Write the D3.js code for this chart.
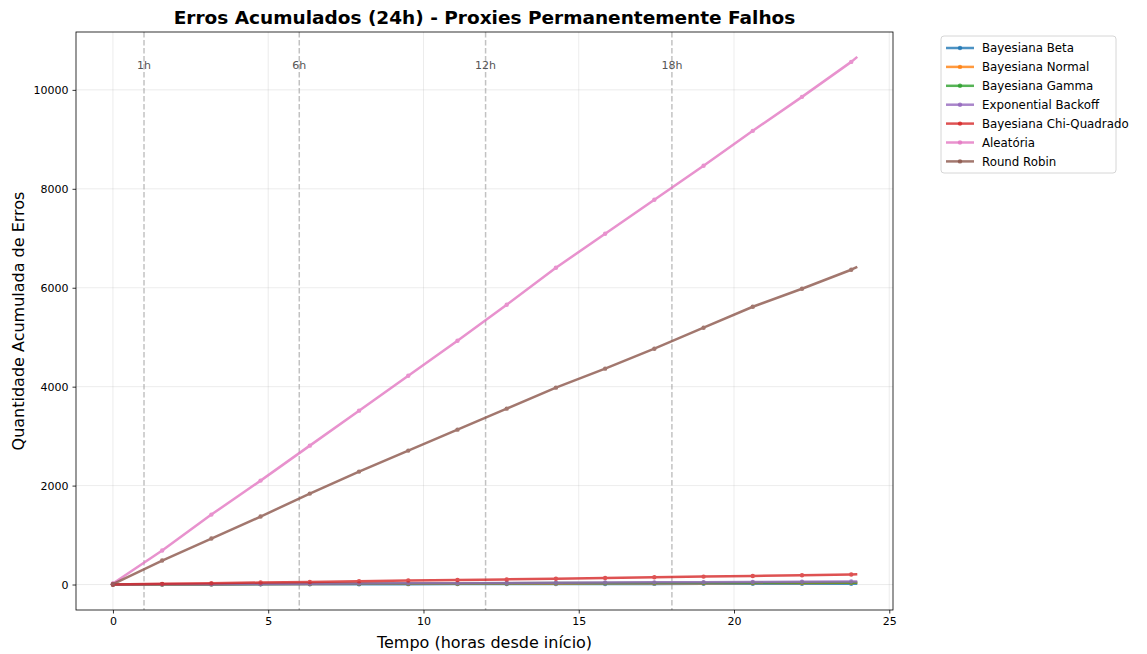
<!DOCTYPE html>
<html>
<head>
<meta charset="utf-8">
<script src="https://cdn.jsdelivr.net/npm/d3@7"></script>
<style>
  body { margin: 0; background: #fff; }
  svg { font-family: "DejaVu Sans", sans-serif; }
</style>
</head>
<body>
<div id="chart"></div>
<script>
// === data ===
const hours = [0, 1.585, 3.17, 4.755, 6.34, 7.925, 9.51, 11.095, 12.68, 14.265, 15.85, 17.435, 19.02, 20.605, 22.19, 23.775, 23.97];

const betaErrors   = [0, 2, 3, 5, 6, 7, 8, 9, 10, 11, 12, 13, 14, 15, 16, 17, 17];
const normalErrors = [0, 3, 6, 9, 12, 14, 16, 18, 20, 22, 24, 26, 28, 30, 32, 34, 34];
const gammaErrors  = [0, 4, 8, 11, 14, 17, 20, 23, 26, 29, 31, 34, 36, 38, 40, 42, 42];
const expoErrors   = [0, 4, 8, 12, 16, 20, 24, 28, 32, 36, 40, 44, 48, 52, 56, 60, 61];
const chiErrors    = [0, 14, 26, 40, 52, 66, 80, 92, 104, 118, 132, 146, 160, 172, 188, 202, 206];
const randomErrors = [20, 687, 1414, 2101, 2808, 3515, 4222, 4929, 5657, 6404, 7091, 7778, 8465, 9172, 9859, 10566, 10667];
const rrErrors     = [10, 485, 929, 1374, 1838, 2283, 2707, 3131, 3556, 3980, 4364, 4768, 5192, 5616, 5980, 6364, 6424];

const seriesNames = ["Bayesiana Beta", "Bayesiana Normal", "Bayesiana Gamma", "Exponential Backoff", "Bayesiana Chi-Quadrado", "Aleatória", "Round Robin"];
const seriesValues = [betaErrors, normalErrors, gammaErrors, expoErrors, chiErrors, randomErrors, rrErrors];
const seriesColors = ["#1f77b4", "#ff7f0e", "#2ca02c", "#9467bd", "#d62728", "#e377c2", "#8c564b"];

const markerHours = [1, 6, 12, 18];
const markerLabels = ["1h", "6h", "12h", "18h"];
const xTicks = [0, 5, 10, 15, 20, 25];
const yTicks = [0, 2000, 4000, 6000, 8000, 10000];

// === layout ===
const W = 1147, H = 654;
const m = { left: 76, right: 254, top: 32, bottom: 44 };

const svg = d3.select("#chart").append("svg")
  .attr("width", W).attr("height", H);

const x = d3.scaleLinear().domain([-1.19, 25.12]).range([m.left, W - m.right]);
const y = d3.scaleLinear().domain([-515, 11170]).range([H - m.bottom, m.top]);

const g = svg.append("g");

// grid
g.append("g").selectAll("line").data(xTicks).join("line")
  .attr("x1", d => x(d)).attr("x2", d => x(d))
  .attr("y1", m.top).attr("y2", H - m.bottom)
  .attr("stroke", "#b0b0b0").attr("stroke-opacity", 0.3).attr("stroke-width", 0.8);
g.append("g").selectAll("line").data(yTicks).join("line")
  .attr("x1", m.left).attr("x2", W - m.right)
  .attr("y1", d => y(d)).attr("y2", d => y(d))
  .attr("stroke", "#b0b0b0").attr("stroke-opacity", 0.3).attr("stroke-width", 0.8);

// vertical reference lines
g.append("g").selectAll("line").data(markerHours).join("line")
  .attr("x1", d => x(d)).attr("x2", d => x(d))
  .attr("y1", m.top).attr("y2", H - m.bottom)
  .attr("stroke", "#999").attr("stroke-opacity", 0.6)
  .attr("stroke-width", 1.5).attr("stroke-dasharray", "5.5,2.5");
g.append("g").selectAll("text").data(markerHours).join("text")
  .attr("x", d => x(d)).attr("y", 69)
  .attr("text-anchor", "middle")
  .attr("fill", "#555").style("font-size", "11px")
  .text((d, i) => markerLabels[i]);

// series
const line = d3.line().x(d => x(d[0])).y(d => y(d[1]));
seriesValues.forEach((vals, k) => {
  const pts = hours.map((h, i) => [h, vals[i]]);
  const sg = g.append("g").attr("opacity", 0.8);
  sg.append("path").datum(pts)
    .attr("fill", "none").attr("stroke", seriesColors[k])
    .attr("stroke-width", 2.5).attr("stroke-linejoin", "round")
    .attr("d", line);
  sg.selectAll("circle").data(pts.slice(0, -1)).join("circle")
    .attr("cx", d => x(d[0])).attr("cy", d => y(d[1]))
    .attr("r", 2.2).attr("fill", seriesColors[k]);
});

// axes
const xAxis = svg.append("g").attr("transform", `translate(0,${H - m.bottom})`)
  .call(d3.axisBottom(x).tickValues(xTicks).tickSize(3.5).tickPadding(4).tickFormat(d3.format("d")));
const yAxis = svg.append("g").attr("transform", `translate(${m.left},0)`)
  .call(d3.axisLeft(y).tickValues(yTicks).tickSize(3.5).tickPadding(4).tickFormat(d3.format("d")));
[xAxis, yAxis].forEach(a => {
  a.select(".domain").remove();
  a.selectAll("text").style("font-size", "11px").style("font-family", "DejaVu Sans").attr("fill", "#000");
  a.selectAll("line").attr("stroke", "#000").attr("stroke-width", 0.8);
});

// frame
svg.append("rect")
  .attr("x", m.left).attr("y", m.top)
  .attr("width", W - m.right - m.left).attr("height", H - m.bottom - m.top)
  .attr("fill", "none").attr("stroke", "#000").attr("stroke-width", 0.8);

// title and labels
svg.append("text").attr("x", (m.left + W - m.right) / 2).attr("y", 24)
  .attr("text-anchor", "middle").style("font-size", "18.5px").style("font-weight", "bold")
  .text("Erros Acumulados (24h) - Proxies Permanentemente Falhos");
svg.append("text").attr("x", (m.left + W - m.right) / 2).attr("y", 648)
  .attr("text-anchor", "middle").style("font-size", "16px")
  .text("Tempo (horas desde início)");
svg.append("text")
  .attr("transform", `translate(24,${(m.top + H - m.bottom) / 2}) rotate(-90)`)
  .attr("text-anchor", "middle").style("font-size", "16px")
  .text("Quantidade Acumulada de Erros");

// legend
const lg = svg.append("g").attr("transform", "translate(941,36)");
lg.append("rect").attr("width", 175).attr("height", 137).attr("rx", 3)
  .attr("fill", "#fff").attr("stroke", "#ccc").attr("stroke-width", 0.8);
seriesNames.forEach((name, k) => {
  const yy = 12 + k * 18.9;
  lg.append("line").attr("x1", 5).attr("x2", 33).attr("y1", yy).attr("y2", yy)
    .attr("stroke", seriesColors[k]).attr("stroke-width", 2.5).attr("stroke-opacity", 0.8);
  lg.append("circle").attr("cx", 19).attr("cy", yy).attr("r", 2.2)
    .attr("fill", seriesColors[k]).attr("opacity", 0.8);
  lg.append("text").attr("x", 41).attr("y", yy + 4.3)
    .style("font-size", "11.8px").text(name);
});
</script>
</body>
</html>
